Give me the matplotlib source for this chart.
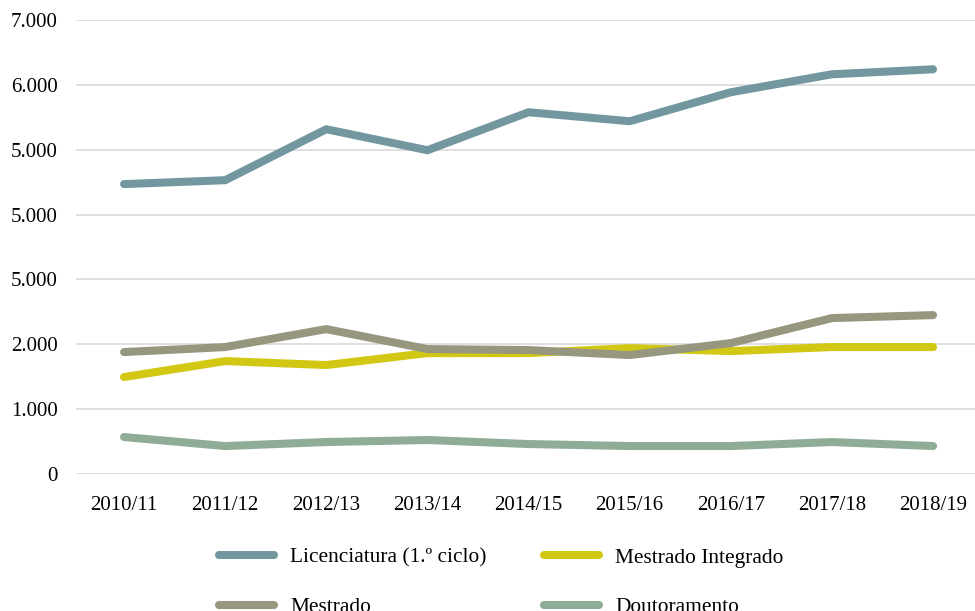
import matplotlib
matplotlib.use("Agg")
import matplotlib.pyplot as plt

categories = ["2010/11", "2011/12", "2012/13", "2013/14", "2014/15", "2015/16", "2016/17", "2017/18", "2018/19"]
licenciatura = [4470, 4530, 5316, 4992, 5578, 5439, 5886, 6163, 6240]
mestrado_integrado = [1495, 1741, 1680, 1864, 1864, 1941, 1895, 1957, 1957]
mestrado = [1880, 1957, 2234, 1926, 1911, 1834, 2018, 2404, 2450]
doutoramento = [570, 431, 493, 524, 462, 431, 431, 493, 431]
ytick_values = [0, 1000, 2000, 3000, 4000, 5000, 6000, 7000]
ytick_labels = ["0", "1.000", "2.000", "5.000", "5.000", "5.000", "6.000", "7.000"]

plt.rcParams['font.family'] = ['Liberation Serif', 'DejaVu Serif']

fig = plt.figure(figsize=(9.75, 6.11), dpi=100)
W, H = 975, 611
ax = fig.add_axes([76 / W, 1 - 474 / H, 899 / W, 454 / H])

x = list(range(len(categories)))
series = [
    ("Licenciatura (1.º ciclo)", licenciatura, "#72979f"),
    ("Mestrado Integrado", mestrado_integrado, "#d2c814"),
    ("Mestrado", mestrado, "#97967e"),
    ("Doutoramento", doutoramento, "#8fac97"),
]
handles = {}
for name, vals, col in series:
    h, = ax.plot(x, vals, color=col, lw=5.8, solid_capstyle='round', solid_joinstyle='round', label=name)
    handles[name] = h

ax.set_xlim(-0.475, 8.415)
ax.set_ylim(0, 7000)
ax.set_yticks(ytick_values)
ax.set_yticklabels(ytick_labels)
ax.set_xticks(x)
ax.set_xticklabels(categories)
ax.tick_params(axis='both', length=0, labelsize=15, colors='black')
ax.tick_params(axis='y', pad=13)
ax.tick_params(axis='x', pad=15.5)
ax.grid(axis='y', color='#d9d9d9', lw=1.2)
ax.set_axisbelow(True)
for s in ax.spines.values():
    s.set_visible(False)

order = ["Licenciatura (1.º ciclo)", "Mestrado", "Mestrado Integrado", "Doutoramento"]
fig.legend([handles[n] for n in order], order, ncol=2, frameon=False, fontsize=15.4,
           loc='upper left', bbox_to_anchor=(219 / W, 1 - 548 / H),
           borderpad=0, borderaxespad=0, handlelength=2.57, handletextpad=0.75,
           columnspacing=2.69, labelspacing=1.36)

fig.savefig("out.png", dpi=100)
